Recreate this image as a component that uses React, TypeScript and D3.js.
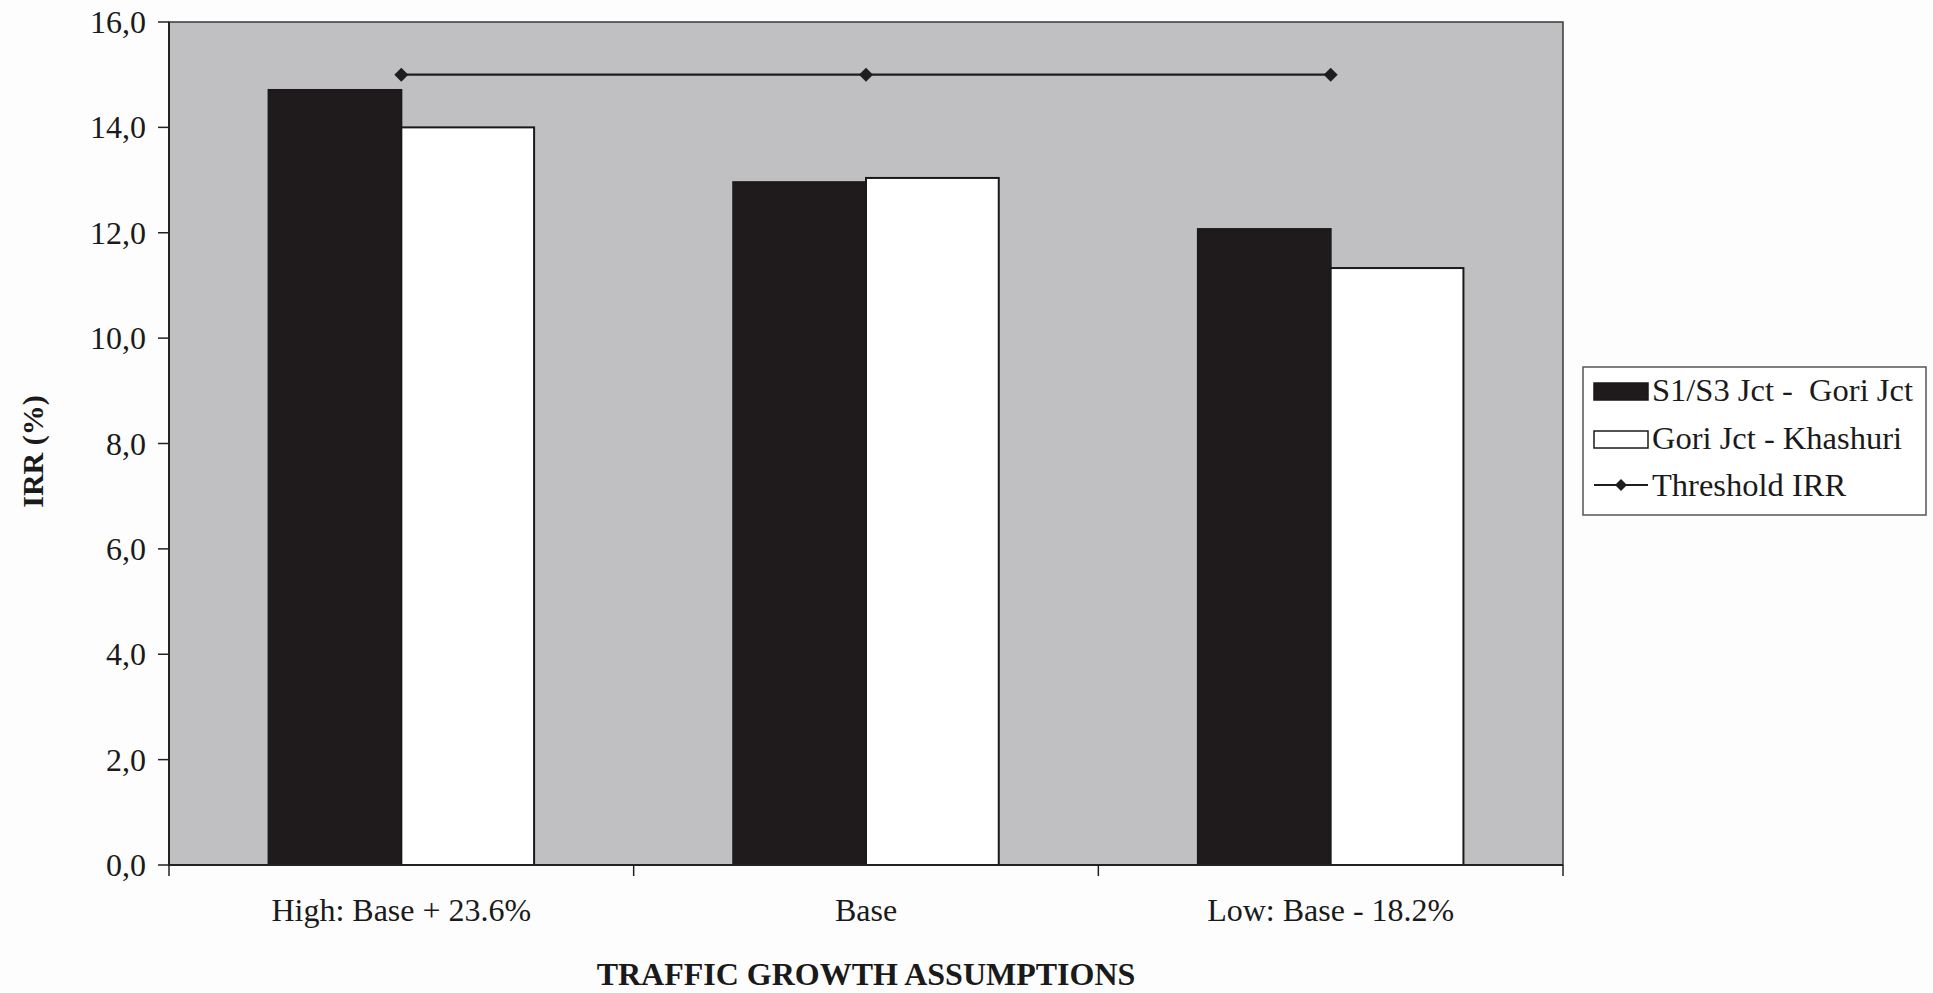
import React from "react";
import * as d3 from "d3";

const categories = ["High: Base + 23.6%", "Base", "Low: Base - 18.2%"];
const seriesNames = ["S1/S3 Jct -  Gori Jct", "Gori Jct - Khashuri"];
const s1Values = [14.71, 12.96, 12.07];
const s2Values = [14.0, 13.04, 11.33];
const thresholdValues = [15.0, 15.0, 15.0];
const yTicks = [0, 2, 4, 6, 8, 10, 12, 14, 16];
const legendLabels = ["S1/S3 Jct -  Gori Jct", "Gori Jct - Khashuri", "Threshold IRR"];

const W = 1933;
const H = 993;
const plot = { left: 169, right: 1563, top: 22, bottom: 865 };
const FONT = "'Liberation Serif', 'Times New Roman', serif";

const fills = ["#1f1b1c", "#ffffff"];

export default function App() {
  const x = d3.scaleBand<string>().domain(categories).range([plot.left, plot.right]).paddingInner(0).paddingOuter(0);
  const inner = d3.scaleBand<string>().domain(seriesNames).range([0, x.bandwidth()]).paddingInner(0).paddingOuter(0.75);
  const y = d3.scaleLinear().domain([0, 16]).range([plot.bottom, plot.top]);
  const seriesValues = [s1Values, s2Values];

  const line = d3
    .line<number>()
    .x((_, i) => (x(categories[i]) as number) + x.bandwidth() / 2)
    .y((d) => y(d));

  const diamond = (cx: number, cy: number, r: number) =>
    `M${cx},${cy - r}L${cx + r},${cy}L${cx},${cy + r}L${cx - r},${cy}Z`;

  const boundaries = [...categories.map((c) => x(c) as number), plot.right];

  const legend = { x: 1583, y: 367, w: 343, h: 148 };
  const rowY = [390, 438, 485];

  return (
    <svg
      width={W}
      height={H}
      style={{ position: "absolute", left: 0, top: 0, background: "#fdfdfd" }}
      fontFamily={FONT}
    >
      {/* plot area */}
      <rect
        x={plot.left}
        y={plot.top}
        width={plot.right - plot.left}
        height={plot.bottom - plot.top}
        fill="#c0bfc1"
        stroke="#3a3a3a"
        strokeWidth={1.5}
      />
      {/* bars */}
      {seriesValues.map((vals, si) =>
        vals.map((v, ci) => {
          const bx = (x(categories[ci]) as number) + (inner(seriesNames[si]) as number);
          return (
            <rect
              key={`${si}-${ci}`}
              x={bx}
              y={y(v)}
              width={inner.bandwidth()}
              height={y(0) - y(v)}
              fill={fills[si]}
              stroke="#1a1a1a"
              strokeWidth={2}
            />
          );
        })
      )}
      {/* threshold line */}
      <path d={line(thresholdValues) || ""} fill="none" stroke="#1e1e1e" strokeWidth={2.2} />
      {thresholdValues.map((v, i) => (
        <path
          key={i}
          d={diamond((x(categories[i]) as number) + x.bandwidth() / 2, y(v), 7)}
          fill="#1e1e1e"
        />
      ))}
      {/* axes */}
      <line x1={plot.left} x2={plot.left} y1={plot.top} y2={plot.bottom} stroke="#222" strokeWidth={2} />
      <line x1={plot.left} x2={plot.right} y1={plot.bottom} y2={plot.bottom} stroke="#222" strokeWidth={2} />
      {yTicks.map((t) => (
        <g key={t}>
          <line x1={plot.left - 11} x2={plot.left} y1={y(t)} y2={y(t)} stroke="#222" strokeWidth={1.5} />
          <text
            x={plot.left - 23}
            y={y(t)}
            textAnchor="end"
            dominantBaseline="central"
            fontSize={32}
            fill="#1a1a1a"
          >
            {d3.format(".1f")(t).replace(".", ",")}
          </text>
        </g>
      ))}
      {boundaries.map((bx, i) => (
        <line key={i} x1={bx} x2={bx} y1={plot.bottom} y2={plot.bottom + 11} stroke="#222" strokeWidth={1.5} />
      ))}
      {categories.map((c) => (
        <text
          key={c}
          x={(x(c) as number) + x.bandwidth() / 2}
          y={921}
          textAnchor="middle"
          fontSize={32}
          fill="#1a1a1a"
        >
          {c}
        </text>
      ))}
      {/* axis titles */}
      <text
        x={(plot.left + plot.right) / 2}
        y={985}
        textAnchor="middle"
        fontSize={32}
        fontWeight="bold"
        fill="#1a1a1a"
      >
        TRAFFIC GROWTH ASSUMPTIONS
      </text>
      <text
        transform={`translate(43, ${(plot.top + plot.bottom) / 2 + 8}) rotate(-90)`}
        textAnchor="middle"
        fontSize={30}
        fontWeight="bold"
        fill="#1a1a1a"
      >
        IRR (%)
      </text>
      {/* legend */}
      <rect x={legend.x} y={legend.y} width={legend.w} height={legend.h} fill="#ffffff" stroke="#555" strokeWidth={1.5} />
      <rect x={1594} y={rowY[0] - 7} width={54} height={17} fill={fills[0]} stroke="#1a1a1a" strokeWidth={1.5} />
      <rect x={1594} y={rowY[1] - 7} width={54} height={17} fill={fills[1]} stroke="#1a1a1a" strokeWidth={1.5} />
      <line x1={1594} x2={1648} y1={rowY[2]} y2={rowY[2]} stroke="#1e1e1e" strokeWidth={2} />
      <path d={diamond(1621, rowY[2], 6)} fill="#1e1e1e" />
      {legendLabels.map((l, i) => (
        <text
          key={l}
          x={1652}
          y={rowY[i]}
          dominantBaseline="central"
          fontSize={32.5}
          fill="#1a1a1a"
          style={{ whiteSpace: "pre" }}
        >
          {l}
        </text>
      ))}
    </svg>
  );
}
